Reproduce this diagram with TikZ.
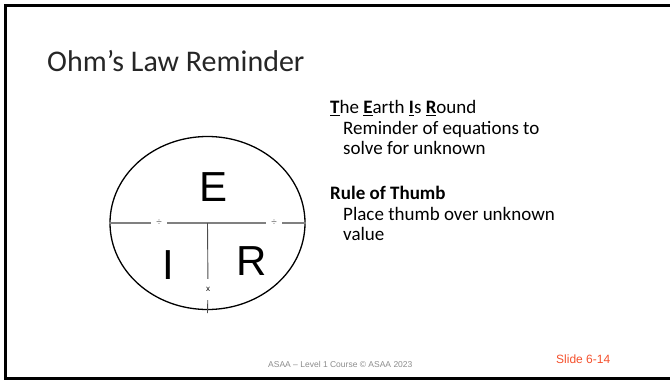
\documentclass[tikz,border=0pt]{standalone}
\usepackage{fontspec}
\setmainfont{Carlito}
\newfontfamily\arialfont{Liberation Sans}
\usepackage{tikz}
\usetikzlibrary{shapes.geometric}
\definecolor{slidered}{RGB}{244,80,44}
\definecolor{footgray}{RGB}{140,140,140}
\definecolor{rulegray}{RGB}{128,128,128}
\tikzset{
  big/.style={font=\arialfont\fontsize{42}{42}\selectfont,inner sep=0pt},
  sym/.style={font=\arialfont\fontsize{10}{10}\selectfont,text=black!60,inner sep=0pt,minimum width=16pt},
  body/.style={align=left,anchor=base west,inner sep=0pt,font=\fontsize{19}{20.3}\selectfont},
  hline/.style={rulegray,line width=1.4pt},
  vline/.style={black!70,line width=0.9pt},
}

\begin{document}
\begin{tikzpicture}[x=1pt,y=-1pt,
  title/.style={anchor=base west,inner sep=0pt,font=\fontsize{30}{30}\selectfont},
  foot/.style={anchor=base west,inner sep=0pt,font=\arialfont\fontsize{#1}{#1}\selectfont}]
  \useasboundingbox (0,0) rectangle (670,380);
  \draw[line width=2.5pt] (670,5.5) -- (5.5,5.5) -- (5.5,378.5) -- (670,378.5);
  \node[title,text=black!85] (title) at (47,71.5) {Ohm’s Law Reminder};
  \node[ellipse,draw,line width=1.3pt,minimum width=195pt,minimum height=173pt,inner sep=0pt] (earth) at (207.5,223) {};
  \node[sym] (divl) at (159,223) {÷};
  \node[sym] (divr) at (274,223) {÷};
  \node[font=\arialfont\fontsize{8}{8}\selectfont,inner sep=0pt,minimum height=21pt] (times) at (208,289.5) {x};
  \draw[hline] (earth.west) -- (divl) -- (divr) -- (earth.east);
  \draw[vline] (earth.center) -- (times);
  \draw[vline] (times) -- ([yshift=-3pt]earth.south);
  \node[big] (ee) at (214,187) {E};
  \node[big] (ii) at (168.5,265) {I};
  \node[big] (rr) at (252,261.5) {R};
  \node[body] (mnemo) at (330,154.3) {\underline{\textbf{T}}he \underline{\textbf{E}}arth \underline{\textbf{I}}s \underline{\textbf{R}}ound\\
    \hspace*{13pt}Reminder of equations to\\
    \hspace*{13pt}solve for unknown};
  \node[body] (thumb) at (330,240.3) {\textbf{Rule of Thumb}\\
    \hspace*{13pt}Place thumb over unknown\\
    \hspace*{13pt}value};
  \node[foot=8.5,text=footgray] (footer) at (268,367) {ASAA – Level 1 Course © ASAA 2023};
  \node[foot=12,text=slidered] (slideno) at (556,363) {Slide 6-14};
\end{tikzpicture}
\end{document}
